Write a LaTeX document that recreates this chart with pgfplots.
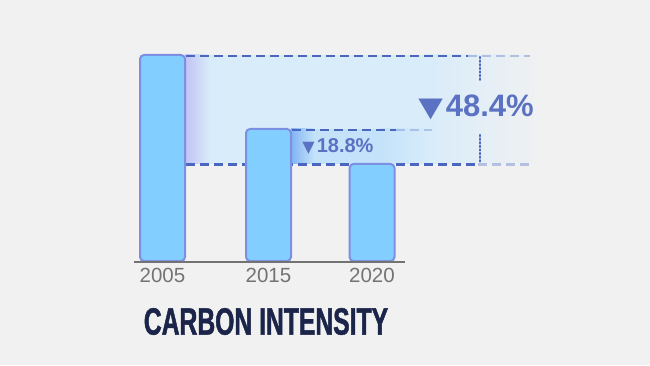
\documentclass[border=0pt]{standalone}
\usepackage{pgfplots}
\pgfplotsset{compat=1.18}
\usepackage{fontspec}
\setmainfont{Liberation Sans}
\newfontfamily\dejavu{DejaVu Sans}
\newfontfamily\titlefont[FakeStretch=0.65, BoldFeatures={FakeBold=1.2}]{Liberation Sans}
\definecolor{bg}{HTML}{F1F1F1}
\definecolor{band}{HTML}{D8ECFA}
\definecolor{bandpurple}{HTML}{C2C2F4}
\definecolor{band2}{HTML}{C4E2FA}
\definecolor{band2dark}{HTML}{80B4F4}
\definecolor{barfill}{HTML}{82CFFF}
\definecolor{barline}{HTML}{7D8FE2}
\definecolor{dashc}{HTML}{4A66BE}
\definecolor{lab}{HTML}{5B72C2}
\definecolor{tickc}{HTML}{737373}
\definecolor{titlec}{HTML}{1B2449}
\begin{document}
\begin{tikzpicture}
\begin{axis}[
  scale only axis, width=650bp, height=365bp,
  xmin=0, xmax=650, ymin=-104, ymax=261,
  hide axis, clip=false,
  ybar, bar width=45, bar shift=0pt,
]
\fill[bg] (rel axis cs:0,0) rectangle (rel axis cs:1,1);
% large band 2005 -> 2020
\shade[left color=bandpurple, right color=band] (axis cs:185,206) rectangle (axis cs:210,97);
\fill[band] (axis cs:210,206) rectangle (axis cs:425,97);
\shade[left color=band, right color=bg] (axis cs:425,206) rectangle (axis cs:545,97);
% small band 2015 -> 2020
\shade[left color=band2dark, right color=band2] (axis cs:291,132) rectangle (axis cs:314,97);
\fill[band2] (axis cs:314,132) rectangle (axis cs:380,97);
\shade[left color=band2, right color=band] (axis cs:380,132) rectangle (axis cs:430,97);
% dashed guide lines
\tikzset{gl/.style={dashc, line width=2.5bp, dash pattern=on 9bp off 5bp}}
\draw[gl] (axis cs:186,205) -- (axis cs:468,205);
\draw[gl, opacity=0.35] (axis cs:468,205) -- (axis cs:530,205);
\draw[gl] (axis cs:292,131) -- (axis cs:396,131);
\draw[gl, opacity=0.3] (axis cs:396,131) -- (axis cs:432,131);
\draw[gl] (axis cs:186,96.5) -- (axis cs:478,96.5);
\draw[gl, opacity=0.35] (axis cs:478,96.5) -- (axis cs:530,96.5);
% dotted vertical bracket
\draw[dashc, line width=2.3bp, line cap=round, dash pattern=on 1.2bp off 2.4bp] (axis cs:480,204) -- (axis cs:480,179);
\draw[dashc, line width=2.3bp, line cap=round, dash pattern=on 1.2bp off 2.4bp] (axis cs:480,126) -- (axis cs:480,98);
% bars
\addplot[fill=barfill, draw=barline, line width=2bp, rounded corners=4bp] coordinates {(162.5,206) (268.5,132) (372,97)};
% axis line
\draw[tickc, line width=2.2bp] (axis cs:134,-1) -- (axis cs:405,-1);
% tick labels
\node[text=tickc, font=\fontsize{20.5bp}{22bp}\selectfont] at (axis cs:162.5,-14.5) {2005};
\node[text=tickc, font=\fontsize{20.5bp}{22bp}\selectfont] at (axis cs:268.5,-14.5) {2015};
\node[text=tickc, font=\fontsize{20.5bp}{22bp}\selectfont] at (axis cs:372,-14.5) {2020};
% annotations
\node[text=lab, font=\bfseries\fontsize{31bp}{33bp}\selectfont, inner sep=0pt] at (axis cs:476,154) {{\dejavu\fontsize{32bp}{33bp}\selectfont\scalebox{1}[0.85]{▼}}\kern3bp 48.4\%};
\node[text=lab, font=\bfseries\fontsize{20bp}{22bp}\selectfont, inner sep=0pt] at (axis cs:338,114) {{\dejavu\fontsize{16bp}{18bp}\selectfont ▼}\kern2bp 18.8\%};
% title
\node[text=titlec, font=\titlefont\bfseries\fontsize{38bp}{40bp}\selectfont, inner sep=0pt] at (axis cs:266,-60.5) {CARBON INTENSITY};
\end{axis}
\end{tikzpicture}
\end{document}
